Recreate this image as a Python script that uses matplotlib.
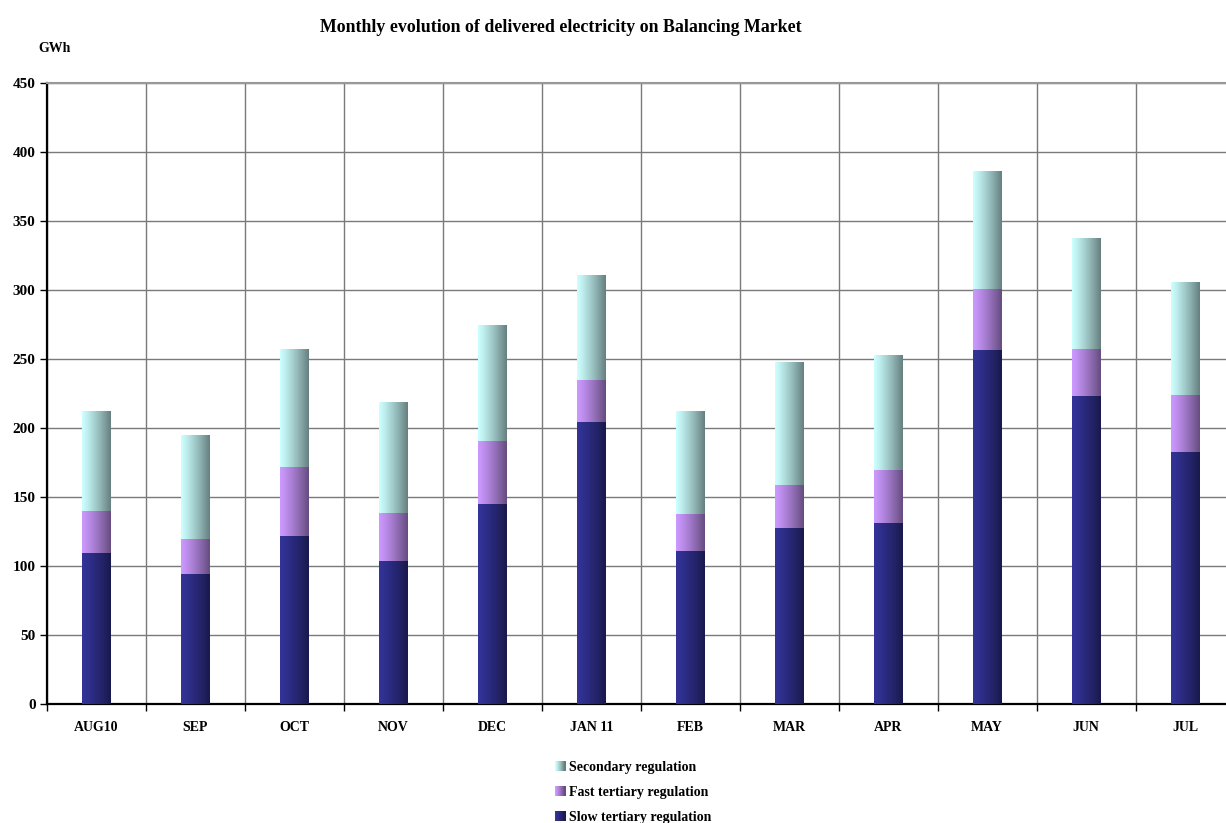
import numpy as np
import matplotlib
matplotlib.use("Agg")
import matplotlib.pyplot as plt
from matplotlib.colors import to_rgb
from matplotlib.legend_handler import HandlerBase
from matplotlib.patches import Rectangle

plt.rcParams['font.family'] = ['Liberation Serif', 'DejaVu Serif']
plt.rcParams['font.weight'] = 'bold'

months = ["AUG10", "SEP", "OCT", "NOV", "DEC", "JAN 11", "FEB", "MAR", "APR", "MAY", "JUN", "JUL"]
slow = [109.4, 94.2, 122.0, 103.6, 144.9, 204.3, 110.9, 127.5, 131.2, 256.5, 223.2, 182.6]
fast = [30.5, 25.4, 49.7, 34.8, 45.7, 30.5, 26.8, 31.2, 38.4, 44.2, 34.0, 41.3]
secondary = [72.4, 75.3, 85.5, 80.4, 84.0, 76.1, 74.6, 89.1, 83.3, 85.5, 80.5, 81.9]

series = [
    ("Slow tertiary regulation", slow, "#333399"),
    ("Fast tertiary regulation", fast, "#cc99ff"),
    ("Secondary regulation", secondary, "#ccffff"),
]


def gradient_img(color, n=64):
    c = np.array(to_rgb(color))
    t = np.linspace(0, 1, n)
    # light at the left edge, half-dark at the right edge
    f = 1.0 - 0.5 * t ** 1.2
    return (c[None, :] * f[:, None])[None, :, :]


class GradientHandler(HandlerBase):
    def __init__(self, color):
        super().__init__()
        self.color = color

    def create_artists(self, legend, orig_handle, xdescent, ydescent,
                       width, height, fontsize, trans):
        img = gradient_img(self.color, 10)[0]
        n = len(img)
        arts = []
        for i, col in enumerate(img):
            r = Rectangle((-xdescent + i * width / n, -ydescent), width / n + 0.3, height,
                          facecolor=col, edgecolor='none', transform=trans)
            arts.append(r)
        return arts


W, H = 1226, 823
fig = plt.figure(figsize=(W / 100, H / 100), dpi=100)
ax = fig.add_axes([46.7 / W, (H - 704) / H, 1188 / W, 621 / H])

x = np.arange(len(months))
bottom = np.zeros(len(months))
handles = []
handler_map = {}
for name, vals, col in series:
    bars = ax.bar(x, vals, width=0.283, bottom=bottom, color=col, edgecolor='none',
                  label=name, zorder=2)
    for p in bars:
        x0, y0 = p.get_x(), p.get_y()
        im = ax.imshow(gradient_img(col), extent=(x0, x0 + p.get_width(), y0, y0 + p.get_height()),
                       aspect='auto', interpolation='bilinear', zorder=3)
        im.set_clip_path(p)
    handles.append(bars)
    handler_map[bars] = GradientHandler(col)
    bottom += np.array(vals)

ax.set_xlim(-0.5, 11.5)
ax.set_ylim(0, 450)
ax.set_yticks(np.arange(0, 451, 50))
ax.set_xticks(x, months)
ax.set_xticks(np.arange(-0.5, 12, 1), minor=True)
ax.tick_params(axis='x', which='major', length=0, pad=12, labelsize=10)
ax.tick_params(axis='x', which='minor', length=5, width=1, direction='out', color='black')
ax.tick_params(axis='y', length=5, width=1, direction='out', labelsize=11, pad=3)
ax.grid(True, axis='y', which='major', color='#7a7a7a', lw=1, zorder=1)
ax.grid(True, axis='x', which='minor', color='#7a7a7a', lw=1, zorder=1)
ax.set_axisbelow(True)
for lbl in ax.get_xticklabels() + ax.get_yticklabels():
    lbl.set_fontweight('bold')

ax.spines['left'].set_linewidth(1.6)
ax.spines['bottom'].set_linewidth(1.6)
ax.spines['top'].set_color('#999999')
ax.spines['top'].set_linewidth(1.5)
ax.spines['right'].set_visible(False)

fig.text(561 / W, 1 - 27 / H, "Monthly evolution of delivered electricity on Balancing Market",
         ha='center', va='center', fontsize=12.9, fontweight='bold')
fig.text(38 / W, 1 - 49 / H, "GWh", ha='left', va='center', fontsize=10, fontweight='bold')

leg = fig.legend(handles[::-1], [s[0] for s in series][::-1], handler_map=handler_map,
                 loc='upper left', bbox_to_anchor=(548 / W, 1 - 754 / H), frameon=False,
                 prop={'size': 10, 'weight': 'bold'}, handlelength=0.75, handleheight=0.75,
                 handletextpad=0.25, labelspacing=0.85, borderpad=0)

fig.savefig("out.png", dpi=100)
